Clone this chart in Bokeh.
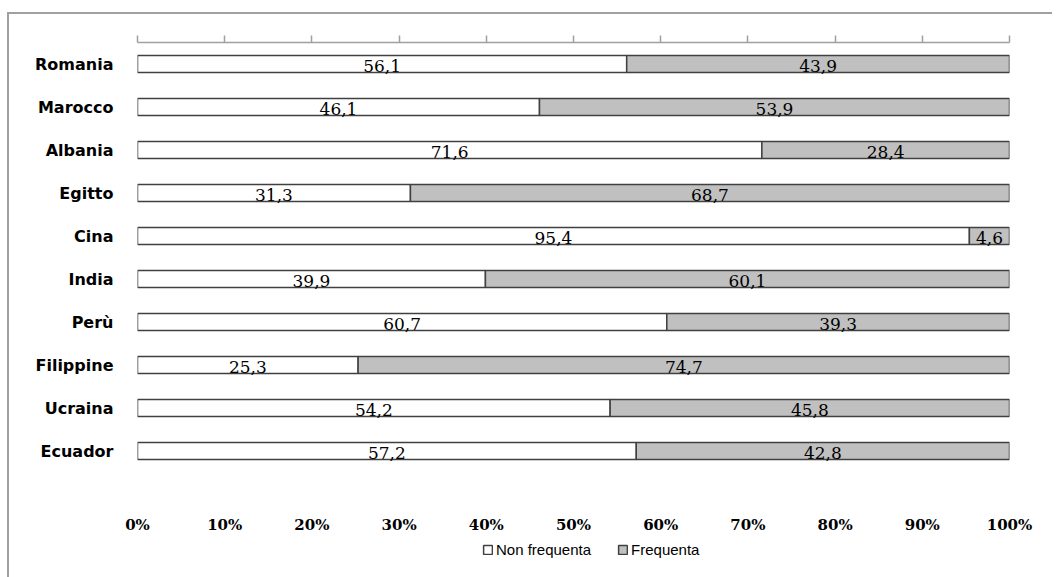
from bokeh.plotting import figure
from bokeh.models import (FactorRange, Range1d, LinearAxis, FixedTicker, PrintfTickFormatter,
                          Legend, LegendItem, CustomJSTickFormatter, ColumnDataSource, CategoricalAxis, Spacer)
from bokeh.layouts import row, column
from bokeh.core.properties import value
from bokeh.embed import file_html
from bokeh.resources import INLINE
import numpy as np

categories = ["Romania", "Marocco", "Albania", "Egitto", "Cina", "India", "Perù", "Filippine", "Ucraina", "Ecuador"]
non_frequenta = [56.1, 46.1, 71.6, 31.3, 95.4, 39.9, 60.7, 25.3, 54.2, 57.2]
frequenta = [43.9, 53.9, 28.4, 68.7, 4.6, 60.1, 39.3, 74.7, 45.8, 42.8]
x_ticks = [0, 10, 20, 30, 40, 50, 60, 70, 80, 90, 100]
series_names = ["Non frequenta", "Frequenta"]
fills = ["white", "#c0c0c0"]
edge = "#404040"
border_css = "2px solid #a0a0a0"

src = ColumnDataSource(dict(cat=categories, non=non_frequenta, freq=frequenta))

p = figure(width=1045, height=524, output_backend="svg", toolbar_location=None,
           y_range=FactorRange(factors=categories[::-1], range_padding=0),
           x_range=Range1d(0, 100), x_axis_location=None, y_axis_location=None,
           min_border_left=128, min_border_right=45, min_border_top=28, min_border_bottom=66)
p.outline_line_color = None
p.xgrid.visible = False
p.ygrid.visible = False
p.styles = {"border-left": border_css, "border-top": border_css}

rs = p.hbar_stack(["non", "freq"], y="cat", height=0.4, source=src,
                  fill_color=fills, line_color=edge, line_width=1.5)

# value labels
lab_x, lab_y, lab_t = [], [], []
for c, a, b in zip(categories, non_frequenta, frequenta):
    lab_x += [a / 2, a + b / 2]
    lab_y += [c, c]
    lab_t += [f"{a:.1f}".replace(".", ","), f"{b:.1f}".replace(".", ",")]
lsrc = ColumnDataSource(dict(x=lab_x, y=lab_y, t=lab_t))
p.text(x="x", y="y", text="t", source=lsrc, text_align="center", text_baseline="middle",
       y_offset=2, text_font=value("DejaVu Serif"), text_font_size="17px", text_color="black")

# left category axis
yax = CategoricalAxis()
yax.axis_line_color = None
yax.major_tick_line_color = None
yax.minor_tick_line_color = None
yax.major_label_standoff = 18
yax.major_label_text_font = "DejaVu Sans"
yax.major_label_text_font_style = "bold"
yax.major_label_text_font_size = "16px"
yax.major_label_text_color = "black"
p.add_layout(yax, "left")

# top axis (line + ticks, no labels)
tax = LinearAxis(ticker=FixedTicker(ticks=x_ticks),
                 formatter=CustomJSTickFormatter(code="return ''"))
tax.axis_line_color = "#a0a0a0"
tax.axis_line_width = 1.5
tax.major_tick_line_color = "#a0a0a0"
tax.major_tick_line_width = 1.5
tax.major_tick_in = 0
tax.major_tick_out = 7
tax.minor_tick_line_color = None
tax.major_label_text_font_size = "1px"
p.add_layout(tax, "above")

# bottom axis (labels only)
bax = LinearAxis(ticker=FixedTicker(ticks=x_ticks), formatter=PrintfTickFormatter(format="%d%%"))
bax.axis_line_color = None
bax.major_tick_line_color = None
bax.major_tick_out = 0
bax.major_tick_in = 0
bax.minor_tick_line_color = None
bax.minor_tick_out = 0
bax.major_label_standoff = 43
bax.major_label_text_font = "DejaVu Serif"
bax.major_label_text_font_style = "bold"
bax.major_label_text_font_size = "15px"
bax.major_label_text_color = "black"
p.add_layout(bax, "below")

# legend strip (swatch renderers hold no drawable geometry)
p2 = figure(width=1045, height=41, output_backend="svg", toolbar_location=None,
            x_range=Range1d(0, 1), y_range=Range1d(0, 1), x_axis_location=None, y_axis_location=None,
            min_border=0)
p2.outline_line_color = None
p2.xgrid.visible = False
p2.ygrid.visible = False
p2.styles = {"border-left": border_css}
sw = ColumnDataSource(dict(y=np.array([np.nan]), left=np.array([np.nan]), right=np.array([np.nan])))
d0 = p2.hbar(y="y", left="left", right="right", height=0.4, source=sw,
             fill_color=fills[0], line_color=edge, line_width=1.5)
d1 = p2.hbar(y="y", left="left", right="right", height=0.4, source=sw,
             fill_color=fills[1], line_color=edge, line_width=1.5)
legend = Legend(items=[LegendItem(label=series_names[0], renderers=[d0]),
                       LegendItem(label=series_names[1], renderers=[d1])],
                orientation="horizontal", location=(345, 19),
                glyph_width=11, glyph_height=11, label_standoff=3, spacing=26,
                padding=0, margin=0, border_line_color=None, background_fill_alpha=0,
                label_text_font="Liberation Sans", label_text_font_size="15px",
                label_text_color="black")
p2.add_layout(legend, "center")

layout = row(Spacer(width=7), column(Spacer(height=12), p, p2, spacing=0), spacing=0)

open("out.html", "w").write(file_html(layout, INLINE))
